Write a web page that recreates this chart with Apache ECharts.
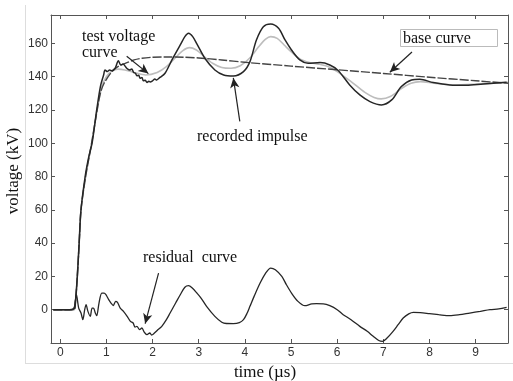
<!DOCTYPE html>
<html>
<head>
<meta charset="utf-8">
<script src="https://cdn.jsdelivr.net/npm/echarts@6/dist/echarts.min.js"></script>
<style>html,body{margin:0;padding:0;background:#fff}#c{width:513px;height:381px}</style>
</head>
<body>
<div id="c"></div>
<script>
// time (µs), voltage (kV)
var recordedImpulse = [[-0.15,0],[0.2,0],[0.3,0.5],[0.33,5],[0.37,20],[0.41,40],[0.45,60],[0.54,80],[0.62,92],[0.69,100],[0.79,120],[0.87,134],[0.94,141],[0.97,144],[1.02,143],[1.07,144],[1.12,143.5],[1.19,145],[1.26,149.5],[1.31,147],[1.36,147.5],[1.44,145],[1.5,144],[1.55,144.5],[1.59,142.5],[1.63,142],[1.66,140.5],[1.7,140.8],[1.73,139],[1.77,139.5],[1.8,137.5],[1.84,137.8],[1.88,136.5],[1.92,137.2],[1.95,136.8],[2.0,137.5],[2.05,138.5],[2.09,138],[2.16,139.5],[2.27,142],[2.42,150],[2.6,159],[2.7,164],[2.78,166],[2.87,164],[2.96,159.7],[3.14,150.7],[3.35,144],[3.54,141],[3.75,140.4],[3.97,143],[4.11,149],[4.25,162],[4.4,170],[4.56,171.6],[4.73,169],[4.87,162],[5.01,156],[5.19,150],[5.37,148],[5.63,148.4],[5.84,147],[6.02,143.7],[6.27,135],[6.49,129],[6.71,125],[6.96,123],[7.18,126],[7.39,134],[7.61,138],[7.79,138.4],[8.08,136.4],[8.44,135],[8.8,134.8],[9.16,135.6],[9.67,136.6]];
var testVoltageCurve = [[-0.15,0],[0.3,0],[0.33,4],[0.37,20],[0.41,40],[0.45,60],[0.55,80],[0.68,100],[0.8,120],[0.9,134],[1.0,140],[1.1,143],[1.25,144.5],[1.4,144],[1.6,142.5],[1.85,141],[2.1,142.5],[2.3,146],[2.5,151.5],[2.65,155.5],[2.8,157.4],[2.95,156],[3.1,152.5],[3.3,148],[3.5,145.5],[3.7,145],[3.9,146.5],[4.1,151],[4.3,158],[4.45,162.5],[4.56,164],[4.7,163],[4.85,159],[5.0,155],[5.2,150.5],[5.4,148.5],[5.6,147.5],[5.8,146],[6.0,143],[6.3,137],[6.6,130.5],[6.8,127.5],[6.95,126.6],[7.15,128],[7.4,133],[7.6,136],[7.8,137],[8.1,136],[8.5,135],[9.0,135.5],[9.7,136.6]];
var baseCurve = [[-0.15,0],[0.3,0],[0.33,5],[0.37,20],[0.41,40],[0.45,60],[0.55,80],[0.68,100],[0.8,120],[0.87,130],[0.95,136],[1.12,143],[1.25,146],[1.41,148],[1.6,150],[1.77,151],[2.0,151.6],[2.3,151.8],[2.7,151.6],[3.0,151.2],[3.5,150],[4.0,148.6],[5.0,146.3],[6.0,144.1],[7.0,141.9],[8.0,139.6],[9.0,137.5],[9.7,136]];
var residualCurve = [[-0.15,0],[0.2,0],[0.28,0.5],[0.31,2],[0.35,9],[0.4,1],[0.45,-2],[0.49,-6],[0.53,0],[0.56,3],[0.6,-1],[0.65,-4],[0.69,1],[0.72,1],[0.76,-2],[0.79,-3.6],[0.84,4],[0.9,10],[0.95,10],[0.99,9],[1.05,6],[1.1,4],[1.15,2.5],[1.2,5],[1.24,4.4],[1.3,1],[1.37,-1],[1.45,-4],[1.52,-7],[1.58,-8],[1.62,-10.5],[1.66,-10],[1.72,-12],[1.77,-11],[1.82,-13.5],[1.88,-15],[1.94,-14],[1.98,-15.2],[2.02,-14.6],[2.1,-12.5],[2.2,-10],[2.3,-6],[2.38,-2],[2.5,4],[2.6,9],[2.7,13.5],[2.78,14.4],[2.86,13],[2.96,10],[3.05,7],[3.17,2],[3.35,-4],[3.5,-7.5],[3.6,-8.3],[3.75,-8.4],[3.88,-7.8],[3.97,-6],[4.05,-2],[4.11,2],[4.2,8],[4.33,16],[4.45,22],[4.56,25],[4.66,24],[4.8,20],[4.9,15],[5.01,10],[5.15,5],[5.3,2.4],[5.45,3.5],[5.55,3.6],[5.7,3.5],[5.84,2.4],[6.0,0],[6.13,-3],[6.3,-6],[6.49,-10],[6.65,-13],[6.78,-16],[6.9,-18.5],[6.98,-19],[7.08,-17],[7.21,-13],[7.32,-9],[7.43,-5],[7.55,-2.5],[7.65,-1.6],[7.8,-1.8],[8.0,-2.4],[8.2,-3],[8.44,-3.6],[8.65,-3],[8.87,-2],[9.1,-1],[9.31,0],[9.5,0.5],[9.67,1.4]];
var xTickValues = [0,1,2,3,4,5,6,7,8,9];
var yTickValues = [0,20,40,60,80,100,120,140,160];

var chart = echarts.init(document.getElementById('c'), null, {renderer: 'canvas'});
function axisLine() {
  return {show: true, onZero: false, lineStyle: {color: '#555', width: 1}};
}
function ticks(vals) {
  return {show: true, inside: true, length: 4, customValues: vals, lineStyle: {color: '#555'}};
}
function arrow(from, to) {
  return [{coord: from, symbol: 'none'}, {coord: to, symbol: 'arrow', symbolSize: [7, 10]}];
}
chart.setOption({
  animation: false,
  backgroundColor: '#fff',
  grid: {left: 51, right: 5, top: 15, bottom: 38},
  xAxis: [
    {type: 'value', min: -0.2, max: 9.7, position: 'bottom', axisLine: axisLine(), splitLine: {show: false},
      axisTick: ticks(xTickValues),
      axisLabel: {customValues: xTickValues, color: '#333', fontFamily: 'Liberation Sans', fontSize: 12, margin: 4}},
    {type: 'value', min: -0.2, max: 9.7, position: 'top', axisLine: axisLine(), splitLine: {show: false},
      axisTick: ticks(xTickValues), axisLabel: {show: false}}
  ],
  yAxis: [
    {type: 'value', min: -20, max: 177, position: 'left', axisLine: axisLine(), splitLine: {show: false},
      axisTick: ticks(yTickValues),
      axisLabel: {customValues: yTickValues, color: '#333', fontFamily: 'Liberation Sans', fontSize: 12, margin: 3}},
    {type: 'value', min: -20, max: 177, position: 'right', axisLine: axisLine(), splitLine: {show: false},
      axisTick: ticks(yTickValues), axisLabel: {show: false}}
  ],
  series: [
    {name: 'test voltage curve', type: 'line', data: testVoltageCurve, showSymbol: false, symbol: 'none', smooth: 0.3,
      lineStyle: {color: '#bdbdbd', width: 1.6}, z: 2},
    {name: 'base curve', type: 'line', data: baseCurve, showSymbol: false, symbol: 'none', smooth: 0.3,
      lineStyle: {color: '#444', width: 1.4, type: [9, 2]}, z: 3},
    {name: 'recorded impulse', type: 'line', data: recordedImpulse, showSymbol: false, symbol: 'none', smooth: 0.3,
      lineStyle: {color: '#262626', width: 1.5}, z: 4,
      markLine: {silent: true, animation: false, label: {show: false},
        lineStyle: {color: '#222', width: 1.2, type: 'solid'},
        data: [
          arrow([1.44, 152.2], [1.91, 141.8]),
          arrow([3.89, 113.1], [3.75, 139.2]),
          arrow([7.62, 154.8], [7.14, 142.6]),
          arrow([2.13, 22.0], [1.84, -8.4])
        ]}},
    {name: 'residual curve', type: 'line', data: residualCurve, showSymbol: false, symbol: 'none', smooth: 0.3,
      lineStyle: {color: '#262626', width: 1.3}, z: 4}
  ],
  graphic: [
    {type: 'line', shape: {x1: 25.5, y1: 5, x2: 25.5, y2: 363.5}, style: {stroke: '#ddd', lineWidth: 1}, silent: true},
    {type: 'line', shape: {x1: 25, y1: 363.5, x2: 513, y2: 363.5}, style: {stroke: '#ddd', lineWidth: 1}, silent: true},
    {type: 'text', x: 14, y: 171, rotation: Math.PI / 2, style: {text: 'voltage (kV)', font: '17px "Liberation Serif"', fill: '#111', textAlign: 'center', textVerticalAlign: 'middle'}},
    {type: 'text', x: 265, y: 373, style: {text: 'time (\u00b5s)', font: '17px "Liberation Serif"', fill: '#111', textAlign: 'center', textVerticalAlign: 'middle'}},
    {type: 'text', x: 82, y: 37, style: {text: 'test voltage', font: '16px "Liberation Serif"', fill: '#111', textAlign: 'left', textVerticalAlign: 'middle'}},
    {type: 'text', x: 82, y: 53, style: {text: 'curve', font: '16px "Liberation Serif"', fill: '#111', textAlign: 'left', textVerticalAlign: 'middle'}},
    {type: 'text', x: 197, y: 137, style: {text: 'recorded impulse', font: '16px "Liberation Serif"', fill: '#111', textAlign: 'left', textVerticalAlign: 'middle'}},
    {type: 'rect', shape: {x: 400.5, y: 29.5, width: 97, height: 17}, style: {fill: '#fff', stroke: '#bbb', lineWidth: 1}, z: 10},
    {type: 'text', x: 403, y: 38.5, z: 11, style: {text: 'base curve', font: '16px "Liberation Serif"', fill: '#111', textAlign: 'left', textVerticalAlign: 'middle'}},
    {type: 'text', x: 143, y: 258, style: {text: 'residual  curve', font: '16px "Liberation Serif"', fill: '#111', textAlign: 'left', textVerticalAlign: 'middle'}}
  ]
});
</script>
</body>
</html>
